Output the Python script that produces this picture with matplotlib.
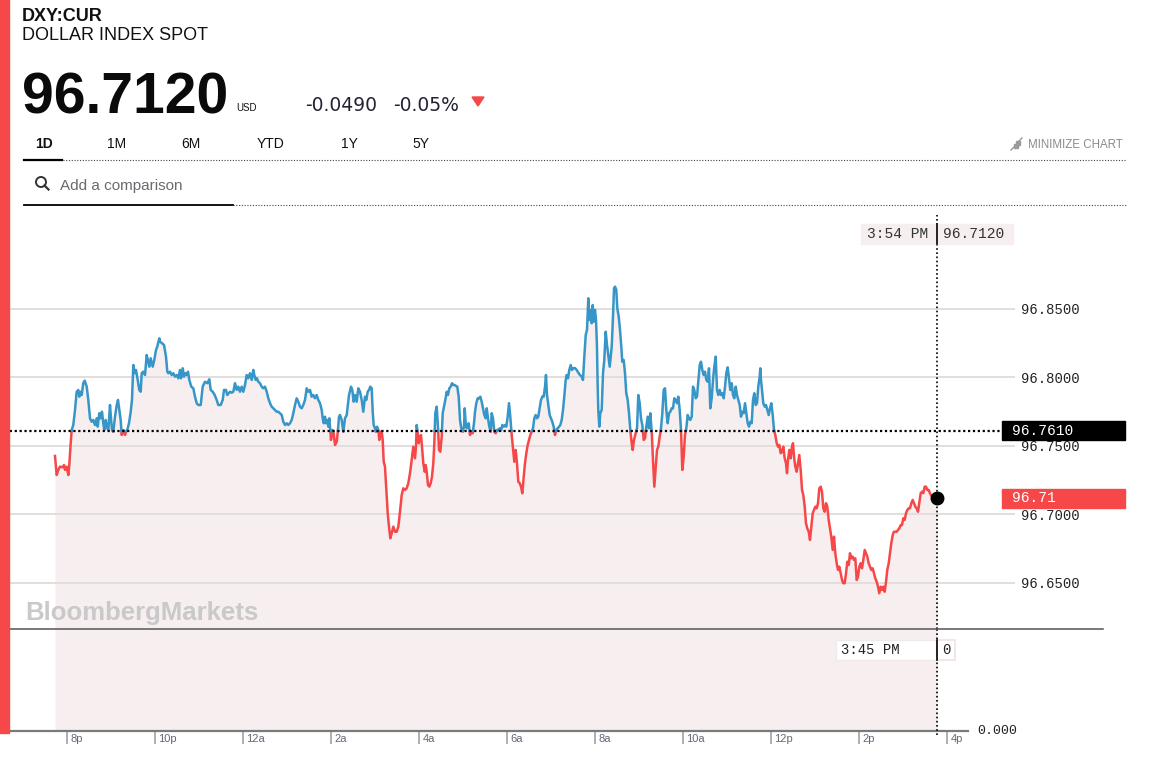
import numpy as np
import matplotlib
matplotlib.use('Agg')
import matplotlib.pyplot as plt
import matplotlib.transforms as mtransforms
from matplotlib.patches import Rectangle, Circle, Polygon
from matplotlib.lines import Line2D

plt.rcParams['font.family'] = ['Liberation Sans', 'DejaVu Sans']

# ---- data (hours from midnight of the first day, 20 = 8p, 40 = 4p next day) ----
times = [
    19.727, 19.766, 19.802, 19.841, 19.902, 19.932, 19.955, 19.993, 20.030, 20.052,
    20.084, 20.107, 20.143, 20.182, 20.220, 20.257, 20.280, 20.311, 20.334, 20.370,
    20.402, 20.448, 20.484, 20.523, 20.561, 20.598, 20.636, 20.675, 20.698, 20.734,
    20.766, 20.795, 20.825, 20.848, 20.880, 20.902, 20.939, 20.977, 21.000, 21.023,
    21.052, 21.091, 21.130, 21.159, 21.189, 21.220, 21.243, 21.280, 21.318, 21.341,
    21.370, 21.409, 21.448, 21.477, 21.507, 21.539, 21.568, 21.607, 21.643, 21.675,
    21.698, 21.734, 21.773, 21.811, 21.848, 21.870, 21.902, 21.948, 21.984, 22.023,
    22.052, 22.098, 22.114, 22.159, 22.205, 22.250, 22.280, 22.302, 22.341, 22.380,
    22.416, 22.455, 22.493, 22.530, 22.568, 22.591, 22.630, 22.659, 22.689, 22.720,
    22.750, 22.780, 22.825, 22.870, 22.909, 22.948, 22.984, 23.039, 23.084, 23.136,
    23.189, 23.234, 23.266, 23.311, 23.357, 23.402, 23.439, 23.493, 23.539, 23.568,
    23.614, 23.643, 23.705, 23.743, 23.780, 23.818, 23.857, 23.893, 23.932, 23.970,
    24.007, 24.045, 24.084, 24.120, 24.159, 24.198, 24.234, 24.257, 24.289, 24.318,
    24.348, 24.386, 24.425, 24.461, 24.500, 24.539, 24.575, 24.614, 24.652, 24.689,
    24.727, 24.766, 24.802, 24.841, 24.880, 24.916, 24.955, 24.993, 25.030, 25.068,
    25.107, 25.143, 25.182, 25.220, 25.257, 25.295, 25.334, 25.370, 25.409, 25.448,
    25.484, 25.523, 25.561, 25.598, 25.636, 25.675, 25.711, 25.750, 25.789, 25.811,
    25.834, 25.864, 25.886, 25.916, 25.939, 25.961, 25.984, 26.000, 26.030, 26.061,
    26.091, 26.130, 26.152, 26.182, 26.205, 26.243, 26.280, 26.318, 26.357, 26.409,
    26.455, 26.484, 26.516, 26.545, 26.584, 26.620, 26.659, 26.698, 26.734, 26.773,
    26.802, 26.834, 26.864, 26.893, 26.925, 26.948, 26.970, 27.000, 27.023, 27.045,
    27.075, 27.098, 27.120, 27.152, 27.175, 27.198, 27.227, 27.257, 27.289, 27.318,
    27.348, 27.380, 27.416, 27.455, 27.493, 27.530, 27.568, 27.607, 27.643, 27.682,
    27.720, 27.757, 27.795, 27.834, 27.870, 27.909, 27.932, 27.948, 27.970, 27.993,
    28.023, 28.045, 28.068, 28.098, 28.130, 28.152, 28.175, 28.205, 28.234, 28.266,
    28.295, 28.325, 28.348, 28.370, 28.402, 28.432, 28.455, 28.484, 28.516, 28.539,
    28.568, 28.598, 28.630, 28.659, 28.689, 28.720, 28.750, 28.780, 28.811, 28.841,
    28.870, 28.902, 28.932, 28.961, 28.993, 29.023, 29.039, 29.061, 29.084, 29.107,
    29.130, 29.159, 29.189, 29.220, 29.250, 29.273, 29.302, 29.334, 29.364, 29.393,
    29.425, 29.455, 29.484, 29.516, 29.539, 29.568, 29.598, 29.630, 29.652, 29.682,
    29.711, 29.743, 29.773, 29.802, 29.834, 29.864, 29.893, 29.925, 29.955, 29.984,
    30.016, 30.045, 30.075, 30.107, 30.136, 30.166, 30.198, 30.227, 30.257, 30.289,
    30.318, 30.348, 30.380, 30.409, 30.439, 30.470, 30.500, 30.530, 30.561, 30.591,
    30.620, 30.652, 30.682, 30.711, 30.743, 30.773, 30.802, 30.834, 30.864, 30.886,
    30.909, 30.939, 30.970, 31.000, 31.030, 31.061, 31.091, 31.120, 31.152, 31.182,
    31.211, 31.243, 31.273, 31.302, 31.334, 31.357, 31.386, 31.416, 31.448, 31.477,
    31.507, 31.545, 31.584, 31.620, 31.659, 31.698, 31.727, 31.757, 31.789, 31.818,
    31.848, 31.870, 31.893, 31.925, 31.948, 31.970, 32.000, 32.023, 32.045, 32.061,
    32.075, 32.098, 32.120, 32.152, 32.182, 32.211, 32.243, 32.273, 32.302, 32.334,
    32.357, 32.380, 32.409, 32.432, 32.455, 32.484, 32.507, 32.539, 32.568, 32.598,
    32.620, 32.652, 32.682, 32.711, 32.743, 32.773, 32.802, 32.834, 32.857, 32.886,
    32.925, 32.955, 32.984, 33.016, 33.045, 33.075, 33.107, 33.136, 33.166, 33.198,
    33.227, 33.257, 33.289, 33.318, 33.348, 33.380, 33.409, 33.439, 33.470, 33.500,
    33.530, 33.561, 33.591, 33.620, 33.652, 33.682, 33.711, 33.743, 33.773, 33.802,
    33.834, 33.864, 33.893, 33.925, 33.955, 33.984, 34.016, 34.045, 34.075, 34.107,
    34.136, 34.166, 34.198, 34.227, 34.257, 34.289, 34.318, 34.348, 34.380, 34.409,
    34.439, 34.470, 34.500, 34.530, 34.561, 34.591, 34.620, 34.652, 34.682, 34.711,
    34.743, 34.773, 34.802, 34.834, 34.864, 34.893, 34.925, 34.955, 34.984, 35.016,
    35.045, 35.075, 35.107, 35.136, 35.166, 35.198, 35.227, 35.257, 35.289, 35.318,
    35.348, 35.380, 35.409, 35.439, 35.470, 35.500, 35.530, 35.561, 35.591, 35.620,
    35.652, 35.682, 35.711, 35.743, 35.757, 35.773, 35.795, 35.825, 35.857, 35.886,
    35.916, 35.948, 35.977, 36.007, 36.039, 36.068, 36.098, 36.130, 36.159, 36.189,
    36.220, 36.250, 36.280, 36.311, 36.341, 36.364, 36.386, 36.416, 36.448, 36.477,
    36.500, 36.523, 36.552, 36.584, 36.614, 36.643, 36.675, 36.705, 36.734, 36.766,
    36.795, 36.825, 36.857, 36.886, 36.916, 36.948, 36.977, 37.007, 37.039, 37.068,
    37.098, 37.130, 37.159, 37.189, 37.220, 37.250, 37.280, 37.311, 37.341, 37.370,
    37.402, 37.432, 37.461, 37.493, 37.523, 37.552, 37.584, 37.614, 37.643, 37.675,
    37.705, 37.734, 37.766, 37.795, 37.825, 37.857, 37.886, 37.916, 37.948, 37.977,
    38.007, 38.039, 38.068, 38.098, 38.130, 38.159, 38.189, 38.220, 38.250, 38.280,
    38.311, 38.341, 38.370, 38.402, 38.432, 38.461, 38.493, 38.523, 38.552, 38.584,
    38.614, 38.643, 38.675, 38.705, 38.734, 38.766, 38.795, 38.857, 38.886, 38.916,
    38.948, 38.977, 39.007, 39.039, 39.068, 39.098, 39.130, 39.159, 39.189, 39.220,
    39.250, 39.280, 39.311, 39.341, 39.370, 39.402, 39.432, 39.461, 39.493, 39.523,
    39.552, 39.584, 39.614, 39.643, 39.689, 39.780,
]
prices = [
    96.7427, 96.7288, 96.7325, 96.7349, 96.7345, 96.7361, 96.7325, 96.7349, 96.7288, 96.7361,
    96.7520, 96.7617, 96.7653, 96.7763, 96.7896, 96.7909, 96.7860, 96.7896, 96.7872, 96.7958,
    96.7977, 96.7933, 96.7836, 96.7702, 96.7677, 96.7690, 96.7653, 96.7702, 96.7641, 96.7739,
    96.7702, 96.7750, 96.7666, 96.7617, 96.7690, 96.7641, 96.7617, 96.7799, 96.7702, 96.7617,
    96.7604, 96.7714, 96.7799, 96.7836, 96.7763, 96.7690, 96.7580, 96.7617, 96.7580, 96.7604,
    96.7617, 96.7666, 96.7750, 96.7836, 96.8091, 96.8031, 96.8055, 96.7982, 96.7909, 96.7896,
    96.8031, 96.8042, 96.8018, 96.8164, 96.8115, 96.8079, 96.8140, 96.8079, 96.8128, 96.8201,
    96.8225, 96.8286, 96.8261, 96.8250, 96.8237, 96.8152, 96.8042, 96.8031, 96.8042, 96.8018,
    96.8031, 96.8006, 96.8018, 96.7994, 96.8055, 96.7994, 96.8067, 96.8006, 96.8031, 96.8018,
    96.8042, 96.7982, 96.7933, 96.7921, 96.7860, 96.7812, 96.7799, 96.7799, 96.7933, 96.7969,
    96.7958, 96.7987, 96.7909, 96.7896, 96.7872, 96.7836, 96.7799, 96.7799, 96.7836, 96.7909,
    96.7909, 96.7872, 96.7896, 96.7889, 96.7896, 96.7958, 96.7909, 96.7933, 96.7896, 96.7933,
    96.7896, 96.7945, 96.8018, 96.7994, 96.8031, 96.7982, 96.8055, 96.8018, 96.7982, 96.7994,
    96.7969, 96.7958, 96.7933, 96.7921, 96.7933, 96.7896, 96.7848, 96.7812, 96.7787, 96.7775,
    96.7763, 96.7750, 96.7750, 96.7739, 96.7726, 96.7677, 96.7653, 96.7666, 96.7653, 96.7666,
    96.7690, 96.7739, 96.7799, 96.7848, 96.7823, 96.7787, 96.7775, 96.7799, 96.7836, 96.7921,
    96.7896, 96.7909, 96.7860, 96.7872, 96.7848, 96.7872, 96.7836, 96.7812, 96.7763, 96.7702,
    96.7666, 96.7714, 96.7666, 96.7690, 96.7641, 96.7702, 96.7617, 96.7544, 96.7617, 96.7593,
    96.7507, 96.7531, 96.7593, 96.7714, 96.7726, 96.7690, 96.7604, 96.7702, 96.7726, 96.7872,
    96.7933, 96.7909, 96.7823, 96.7872, 96.7823, 96.7921, 96.7896, 96.7836, 96.7750, 96.7860,
    96.7836, 96.7896, 96.7909, 96.7933, 96.7921, 96.7750, 96.7653, 96.7629, 96.7604, 96.7641,
    96.7617, 96.7544, 96.7604, 96.7604, 96.7544, 96.7385, 96.7349, 96.7179, 96.7009, 96.6911,
    96.6826, 96.6863, 96.6911, 96.6874, 96.6874, 96.6911, 96.7020, 96.7142, 96.7191, 96.7179,
    96.7191, 96.7228, 96.7301, 96.7398, 96.7495, 96.7410, 96.7495, 96.7653, 96.7593, 96.7520,
    96.7568, 96.7580, 96.7495, 96.7374, 96.7312, 96.7361, 96.7312, 96.7215, 96.7203, 96.7228,
    96.7276, 96.7374, 96.7520, 96.7739, 96.7787, 96.7641, 96.7471, 96.7458, 96.7568, 96.7739,
    96.7787, 96.7836, 96.7896, 96.7872, 96.7921, 96.7933, 96.7958, 96.7945, 96.7945, 96.7938,
    96.7933, 96.7860, 96.7690, 96.7629, 96.7604, 96.7641, 96.7775, 96.7666, 96.7629, 96.7653,
    96.7666, 96.7580, 96.7604, 96.7593, 96.7666, 96.7750, 96.7812, 96.7848, 96.7848, 96.7860,
    96.7823, 96.7775, 96.7726, 96.7702, 96.7775, 96.7702, 96.7641, 96.7604, 96.7739, 96.7702,
    96.7604, 96.7593, 96.7617, 96.7617, 96.7629, 96.7612, 96.7653, 96.7641, 96.7653, 96.7641,
    96.7714, 96.7812, 96.7714, 96.7580, 96.7483, 96.7385, 96.7471, 96.7374, 96.7239, 96.7228,
    96.7203, 96.7155, 96.7276, 96.7374, 96.7447, 96.7507, 96.7544, 96.7580, 96.7604, 96.7629,
    96.7702, 96.7726, 96.7702, 96.7714, 96.7775, 96.7836, 96.7860, 96.7860, 96.7933, 96.8018,
    96.7872, 96.7799, 96.7726, 96.7702, 96.7677, 96.7641, 96.7580, 96.7617, 96.7629, 96.7641,
    96.7653, 96.7690, 96.7763, 96.7860, 96.7982, 96.8018, 96.7994, 96.8055, 96.8091, 96.8055,
    96.8067, 96.8069, 96.8055, 96.8035, 96.8018, 96.8006, 96.7982, 96.8152, 96.8310, 96.8347,
    96.8578, 96.8420, 96.8493, 96.8396, 96.8529, 96.8407, 96.8493, 96.8420, 96.8225, 96.7933,
    96.7763, 96.7641, 96.7739, 96.7763, 96.8031, 96.8128, 96.8334, 96.8237, 96.8164, 96.8079,
    96.8152, 96.8225, 96.8444, 96.8651, 96.8663, 96.8639, 96.8505, 96.8444, 96.8347, 96.8225,
    96.8115, 96.8128, 96.8031, 96.7885, 96.7836, 96.7739, 96.7617, 96.7520, 96.7471, 96.7544,
    96.7593, 96.7629, 96.7872, 96.7812, 96.7702, 96.7653, 96.7544, 96.7556, 96.7641, 96.7714,
    96.7629, 96.7739, 96.7604, 96.7398, 96.7203, 96.7349, 96.7471, 96.7495, 96.7568, 96.7629,
    96.7739, 96.7909, 96.7921, 96.7763, 96.7666, 96.7739, 96.7750, 96.7775, 96.7775, 96.7848,
    96.7836, 96.7812, 96.7860, 96.7763, 96.7617, 96.7325, 96.7422, 96.7580, 96.7629, 96.7726,
    96.7702, 96.7690, 96.7714, 96.7933, 96.7909, 96.7848, 96.7860, 96.7969, 96.8091, 96.8115,
    96.8055, 96.8018, 96.8042, 96.7982, 96.7969, 96.8067, 96.7775, 96.7848, 96.7982, 96.8079,
    96.8152, 96.7909, 96.7872, 96.7909, 96.7872, 96.7885, 96.7848, 96.7933, 96.8031, 96.8074,
    96.7994, 96.7909, 96.7958, 96.7872, 96.7848, 96.7933, 96.7872, 96.7836, 96.7799, 96.7714,
    96.7750, 96.7739, 96.7812, 96.7739, 96.7666, 96.7641, 96.7677, 96.7666, 96.7836, 96.7885,
    96.7799, 96.7812, 96.7933, 96.8006, 96.8067, 96.7982, 96.7909, 96.7812, 96.7787, 96.7799,
    96.7763, 96.7726, 96.7775, 96.7812, 96.7726, 96.7617, 96.7580, 96.7520, 96.7495, 96.7507,
    96.7447, 96.7458, 96.7495, 96.7410, 96.7374, 96.7301, 96.7398, 96.7471, 96.7410, 96.7495,
    96.7520, 96.7422, 96.7349, 96.7312, 96.7374, 96.7434, 96.7325, 96.7179, 96.7142, 96.7057,
    96.6936, 96.6899, 96.6874, 96.6814, 96.6911, 96.7009, 96.7033, 96.7057, 96.7045, 96.7082,
    96.7191, 96.7203, 96.7166, 96.7045, 96.7020, 96.7082, 96.7057, 96.6960, 96.6899, 96.6838,
    96.6741, 96.6838, 96.6717, 96.6644, 96.6595, 96.6619, 96.6571, 96.6522, 96.6498, 96.6498,
    96.6571, 96.6655, 96.6631, 96.6717, 96.6680, 96.6692, 96.6668, 96.6680, 96.6522, 96.6546,
    96.6619, 96.6644, 96.6607, 96.6668, 96.6741, 96.6717, 96.6692, 96.6644, 96.6619, 96.6595,
    96.6607, 96.6571, 96.6534, 96.6509, 96.6473, 96.6425, 96.6473, 96.6449, 96.6473, 96.6436,
    96.6509, 96.6595, 96.6644, 96.6717, 96.6790, 96.6850, 96.6874, 96.6874, 96.6887, 96.6899,
    96.6923, 96.6923, 96.6972, 96.6960, 96.7009, 96.7033, 96.7045, 96.7045, 96.7082, 96.7106,
    96.7082, 96.7057, 96.7045, 96.7020, 96.7082, 96.7155, 96.7166, 96.7155, 96.7203, 96.7203,
    96.7179, 96.7179, 96.7155, 96.7135, 96.7130, 96.7120,
]
prev_close = 96.7610
tick_hours = [20, 22, 24, 26, 28, 30, 32, 34, 36, 38, 40]
tick_labels = ['8p', '10p', '12a', '2a', '4a', '6a', '8a', '10a', '12p', '2p', '4p']
price_ticks = [96.65, 96.70, 96.75, 96.80, 96.85]
tabs = ['1D', '1M', '6M', 'YTD', '1Y', '5Y']

RED = '#f64848'
BLUE = '#3796c8'
FILL = '#f6eeef'
MONO = 'Liberation Mono'

W, H = 1156, 774
fig = plt.figure(figsize=(W / 100, H / 100), dpi=100)
fig.patch.set_facecolor('white')
# pixel coordinates measured from the top-left corner
px = mtransforms.Affine2D().scale(1 / W, -1 / H).translate(0, 1) + fig.transFigure

t = np.array(times)
p = np.array(prices)

ax = fig.add_axes([0, 145 / H, 1015 / W, 414 / H])
ax_low = fig.add_axes([0, 43 / H, 1015 / W, 102 / H], sharex=ax)
x0 = 20 - 67 / 44
x1 = 20 + (1015 - 67) / 44
ax.set_xlim(x0, x1)
ymin, ymax = 96.6164, 96.9186
ax.set_ylim(ymin, ymax)

# area under the price
ax.fill_between(t, p, ymin, color=FILL, lw=0, zorder=0.3)
ax_low.fill_between(t, 0, 1, color=FILL, lw=0, zorder=0.3)
ax_low.set_ylim(0, 1)

# split the line where it crosses the previous close
tt, pp = [t[0]], [p[0]]
for i in range(1, len(t)):
    a, b = p[i - 1] - prev_close, p[i] - prev_close
    if a * b < 0:
        f = a / (a - b)
        tt.append(t[i - 1] + f * (t[i] - t[i - 1]))
        pp.append(prev_close)
    tt.append(t[i])
    pp.append(p[i])
tt, pp = np.array(tt), np.array(pp)
ax.plot(tt, np.ma.masked_where(pp > prev_close + 1e-9, pp), color=RED, lw=1.8, zorder=3,
        solid_joinstyle='round')
ax.plot(tt, np.ma.masked_where(pp < prev_close - 1e-9, pp), color=BLUE, lw=1.8, zorder=3,
        solid_joinstyle='round')
ax.plot(t[-1], p[-1], 'o', color='black', ms=9, zorder=6)

# previous close + crosshair
ax.axhline(prev_close, xmin=0, xmax=1000 / 1015, color='black', ls=(0, (1, 1.2)), lw=1.6, zorder=4)
ax.axvline(t[-1], color='black', ls=(0, (1, 1.5)), lw=1.2, zorder=4)
ax_low.axvline(t[-1], ymin=-0.04, ymax=1, color='black', ls=(0, (1, 1.5)), lw=1.2, zorder=4,
               clip_on=False)

# y axis
ax.set_yticks(price_ticks)
ax.set_yticklabels(['%.4f' % v for v in price_ticks])
ax.yaxis.tick_right()
ax.tick_params(axis='y', length=0, pad=4, labelsize=10, labelcolor='#222222')
for lab in ax.get_yticklabels():
    lab.set_fontfamily(MONO)
ax.grid(axis='y', color='#e2dede', lw=1.4)
ax.set_axisbelow(True)
ax.tick_params(axis='x', length=0, labelbottom=False)
for s in ax.spines.values():
    s.set_visible(False)

# bottom time axis
for s in ['top', 'left', 'right']:
    ax_low.spines[s].set_visible(False)
ax_low.spines['bottom'].set_color('#7a7a7a')
ax_low.spines['bottom'].set_linewidth(1.6)
ax_low.spines['bottom'].set_bounds(x0, 20 + (968 - 67) / 44)
ax_low.set_yticks([])
ax_low.set_xticks(tick_hours)
ax_low.set_xticklabels([])
ax_low.tick_params(axis='x', length=9, width=1.1, color='#9a9a9a', direction='out')
for h, lab in zip(tick_hours, tick_labels):
    ax_low.annotate(lab, xy=(h, 0), xycoords=('data', 'axes fraction'), xytext=(2.5, -2.5),
                    textcoords='offset points', ha='left', va='top', fontsize=8, color='#666677')
fig.text(977, 731, '0.000', transform=px, fontsize=9.5, family=MONO, va='center', color='#222222')

# label boxes on the right
blend = mtransforms.blended_transform_factory(px, ax.transData)
box_h = 19 / 1370
fig.add_artist(Rectangle((1002, prev_close - box_h / 2), 123, box_h, transform=blend,
                         color='black', zorder=8))
fig.text(1012, prev_close, '%.4f' % prev_close, transform=blend, color='white', fontsize=10.5,
         family=MONO, va='center', zorder=9)
fig.add_artist(Rectangle((1002, p[-1] - box_h / 2), 123, box_h, transform=blend,
                         color=RED, zorder=8))
fig.text(1012, p[-1], '%.2f' % p[-1], transform=blend, color='white', fontsize=10.5,
         family=MONO, va='center', zorder=9)

# crosshair readouts
fig.add_artist(Rectangle((861, 224), 152, 20, transform=px, color=FILL, zorder=7))
fig.add_artist(Line2D([937, 937], [224, 244], transform=px, color='black', lw=1.2, zorder=8))
fig.text(867, 234.5, '3:54 PM', transform=px, fontsize=10.5, family=MONO, va='center',
         color='#333333', zorder=9)
fig.text(943, 234.5, '%.4f' % p[-1], transform=px, fontsize=10.5, family=MONO, va='center',
         color='#333333', zorder=9)
fig.add_artist(Rectangle((836, 640), 100, 20, transform=px, facecolor='white',
                         edgecolor='#f1eaea', lw=1, zorder=7))
fig.add_artist(Rectangle((937, 640), 18, 20, transform=px, facecolor='white',
                         edgecolor='#f1e2e2', lw=1.2, zorder=7))
fig.add_artist(Line2D([937, 937], [640, 660], transform=px, color='black', lw=1.2, zorder=8))
fig.text(841, 650.5, '3:45 PM', transform=px, fontsize=10, family=MONO, va='center',
         color='#222222', zorder=9)
fig.text(942, 650.5, '0', transform=px, fontsize=10, family=MONO, va='center',
         color='#222222', zorder=9)

# separator between price and volume panes
fig.add_artist(Line2D([0, 1103], [629, 629], transform=px, color='#555555', lw=1.1, zorder=5))

# watermark
fig.text(25, 620, 'BloombergMarkets', transform=px, fontsize=18.5, weight='bold',
         color='#c9c9c9', va='baseline', zorder=5)

# ---- header ----
fig.add_artist(Rectangle((0, 0), 9, 733, transform=px, color=RED, zorder=10))
fig.text(22, 21, 'DXY:CUR', transform=px, fontsize=13, weight='bold', color='#111111')
fig.text(22, 40, 'DOLLAR INDEX SPOT', transform=px, fontsize=13, color='#111111')
fig.text(22, 113, '96.7120', transform=px, fontsize=41, weight='bold', color='#0a0a0a')
fig.text(236, 111, 'USD', transform=px, fontsize=7, color='#111111')
fig.text(305, 111, '-0.0490', transform=px, fontsize=13.5, family='DejaVu Sans', color='#222233')
fig.text(393, 111, '-0.05%', transform=px, fontsize=13.5, family='DejaVu Sans', color='#222233')
fig.add_artist(Polygon([[472, 97], [484, 97], [478, 106]], closed=True, transform=px,
                       color=RED))

tab_x = [35, 107, 181, 257, 341, 412]
for i, (name, x) in enumerate(zip(tabs, tab_x)):
    fig.text(x, 148, name, transform=px, fontsize=10, color='#111111',
             weight='bold' if i == 0 else 'normal')
fig.text(1028, 148, 'MINIMIZE CHART', transform=px, fontsize=8.3, color='#8a8a8a')
for a, b in [((1011, 150), (1015.5, 145.5)), ((1022, 138), (1017.5, 142.5))]:
    fig.add_artist(Line2D([a[0], b[0]], [a[1], b[1]], transform=px, color='#9a9a9a', lw=1))
    fig.add_artist(Line2D([b[0]], [b[1]], transform=px, marker='s', ms=2.5, color='#9a9a9a'))

fig.add_artist(Line2D([24, 1126], [160, 160], transform=px, color='#444444', lw=0.8,
                      ls=(0, (1, 1.5))))
fig.add_artist(Line2D([24, 62], [160, 160], transform=px, color='black', lw=1.6))

fig.add_artist(Circle((41, 182), 5, transform=px, fill=False, edgecolor='#333333', lw=1.4))
fig.add_artist(Line2D([44.5, 48.5], [185.5, 189.5], transform=px, color='#333333', lw=1.6))
fig.text(60, 190, 'Add a comparison', transform=px, fontsize=11, color='#6a6a70')
fig.add_artist(Line2D([24, 233], [205, 205], transform=px, color='black', lw=1.3))
fig.add_artist(Line2D([233, 1126], [205, 205], transform=px, color='#444444', lw=0.8,
                      ls=(0, (1, 1.5))))

fig.savefig('out.png', dpi=100, facecolor='white')
